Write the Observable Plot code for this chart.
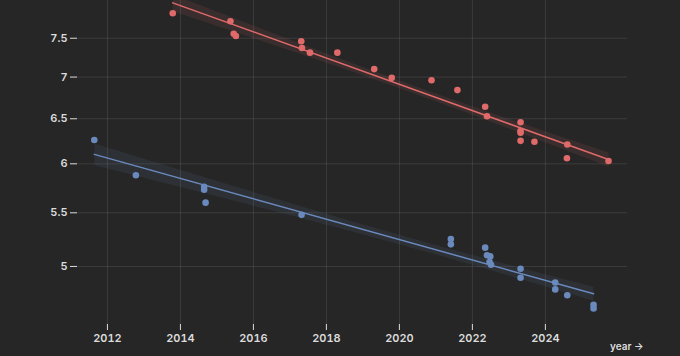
<!DOCTYPE html>
<html>
<head>
<meta charset="utf-8">
<script src="https://cdn.jsdelivr.net/npm/d3@7"></script>
<script src="https://cdn.jsdelivr.net/npm/@observablehq/plot@0.6"></script>
<style>
  html, body { margin: 0; padding: 0; background: #262626; }
  #chart { width: 680px; height: 356px; }
</style>
</head>
<body>
<div id="chart"></div>
<script>
// Series A (red)
const redYears = [2013.79, 2015.37, 2015.46, 2015.52, 2017.31, 2017.33, 2017.55, 2018.30, 2019.31, 2019.79, 2020.88, 2021.59, 2022.35, 2022.40, 2023.32, 2023.32, 2023.32, 2023.32, 2023.70, 2024.60, 2024.59, 2025.73];
const redValues = [7.84, 7.73, 7.56, 7.53, 7.46, 7.37, 7.31, 7.31, 7.10, 6.99, 6.96, 6.84, 6.64, 6.53, 6.46, 6.36, 6.34, 6.25, 6.24, 6.21, 6.06, 6.03];
// Series B (blue)
const blueYears = [2011.64, 2012.78, 2014.65, 2014.65, 2014.69, 2017.32, 2021.41, 2021.41, 2022.35, 2022.40, 2022.49, 2022.47, 2022.51, 2023.32, 2023.32, 2024.27, 2024.27, 2024.60, 2025.32, 2025.32];
const blueValues = [6.26, 5.88, 5.76, 5.73, 5.60, 5.48, 5.25, 5.20, 5.17, 5.10, 5.09, 5.04, 5.015, 4.98, 4.90, 4.86, 4.80, 4.75, 4.67, 4.64];

const yTicks = [5, 5.5, 6, 6.5, 7, 7.5];
const xTicks = [2012, 2014, 2016, 2018, 2020, 2022, 2024];
const xDomain = [2011.18, 2026.25];
const yDomain = [4.51, 8.02];
const xLabel = "year →";

const red = redYears.map((year, i) => ({year, value: redValues[i], series: "red"}));
const blue = blueYears.map((year, i) => ({year, value: blueValues[i], series: "blue"}));

const redColor = "#e06a6a";
const blueColor = "#6a89bd";

const chart = Plot.plot({
  width: 680,
  height: 356,
  marginLeft: 77,
  marginRight: 53,
  marginTop: 0,
  marginBottom: 32,
  style: {background: "#262626", color: "#dcdcdc", fontFamily: "Inter, sans-serif", fontSize: "11px"},
  x: {domain: xDomain},
  y: {type: "log", domain: yDomain},
  marks: [
    Plot.gridX(xTicks, {stroke: "#ffffff", strokeOpacity: 0.1}),
    Plot.gridY(yTicks, {stroke: "#ffffff", strokeOpacity: 0.1}),
    Plot.axisY(yTicks, {tickFormat: d => String(d), tickSize: 7, tickPadding: 3, label: null, stroke: "#dcdcdc", fill: "#dcdcdc", fontWeight: 600}),
    Plot.axisX(xTicks, {tickFormat: d => String(d), tickSize: 6, tickPadding: 4, label: null, fill: "#dcdcdc", stroke: "#dcdcdc", fontWeight: 600}),
    Plot.text([xLabel], {text: d => d, frameAnchor: "bottom-right", textAnchor: "end", dx: 16, dy: 25, fill: "#dcdcdc", fontWeight: 600, fontSize: 10}),
    Plot.linearRegressionY(blue, {x: "year", y: "value", stroke: blueColor, fill: blueColor, strokeWidth: 1.5, fillOpacity: 0.1}),
    Plot.linearRegressionY(red, {x: "year", y: "value", stroke: redColor, fill: redColor, strokeWidth: 1.5, fillOpacity: 0.1}),
    Plot.dot(blue, {x: "year", y: "value", r: 3.3, fill: blueColor}),
    Plot.dot(red, {x: "year", y: "value", r: 3.3, fill: redColor})
  ]
});
document.getElementById("chart").appendChild(chart);
</script>
</body>
</html>
